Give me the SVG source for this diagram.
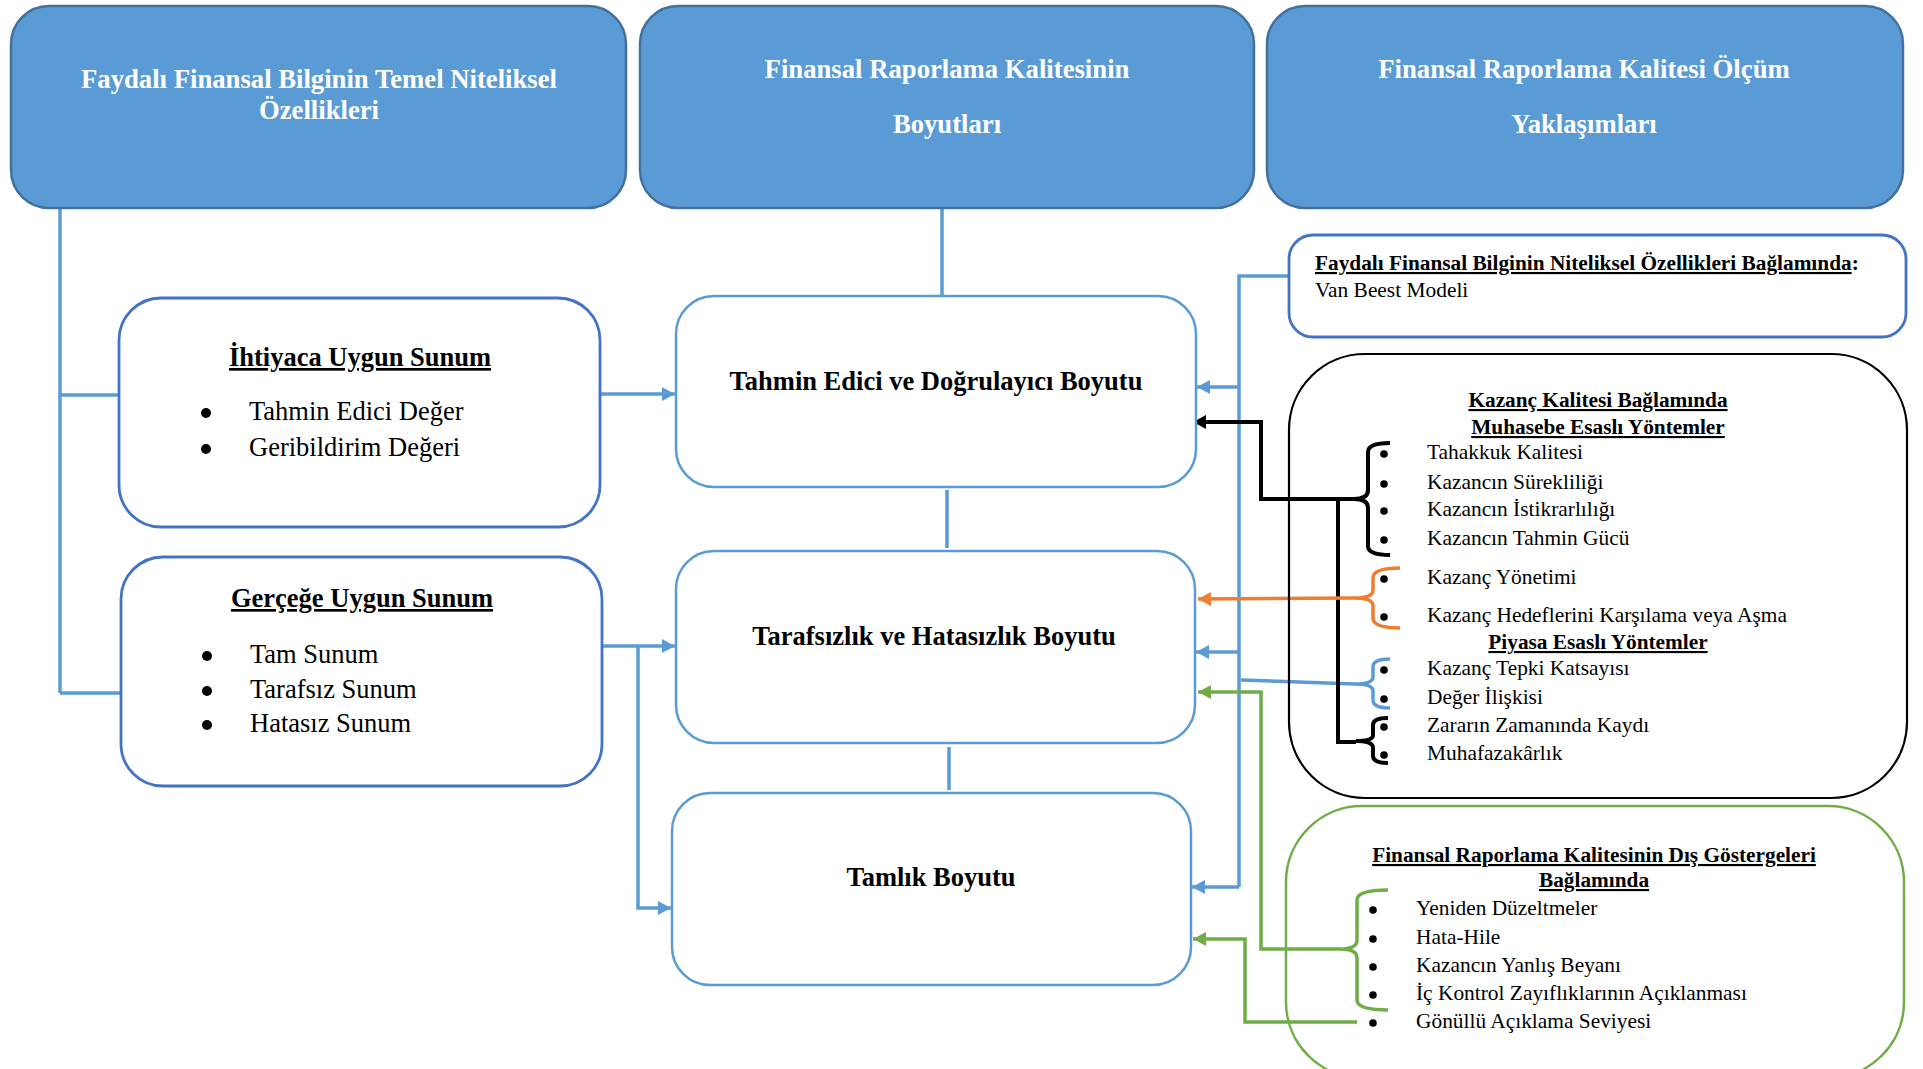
<svg xmlns="http://www.w3.org/2000/svg" width="1923" height="1069" viewBox="0 0 1923 1069">
<defs>
<style>
.top{fill:#5B9BD5;stroke:#41719C;stroke-width:2.5}
.th{font-family:"Liberation Serif","Times New Roman",serif;font-weight:bold;font-size:26.7px;fill:#fff;text-anchor:middle}
.mid{fill:#fff;stroke:#5B9BD5;stroke-width:2.5}
.left{fill:#fff;stroke:#4472C4;stroke-width:2.8}
.mt{font-family:"Liberation Serif","Times New Roman",serif;font-weight:bold;font-size:26.5px;fill:#000;text-anchor:middle}
.lt{font-family:"Liberation Serif","Times New Roman",serif;font-weight:bold;font-size:26.5px;fill:#000;text-anchor:middle;text-decoration:underline}
.li{font-family:"Liberation Serif","Times New Roman",serif;font-size:26.5px;fill:#000}
.rt{font-family:"Liberation Serif","Times New Roman",serif;font-weight:bold;font-size:21.3px;fill:#000;text-anchor:middle;text-decoration:underline}
.ri{font-family:"Liberation Serif","Times New Roman",serif;font-size:21.4px;fill:#000}
.bl{fill:#000}
.cb{fill:none;stroke:#5B9BD5;stroke-width:3.5}
.ck{fill:none;stroke:#000;stroke-width:4}
.co{fill:none;stroke:#ED7D31;stroke-width:3.5}
.cg{fill:none;stroke:#70AD47;stroke-width:3.5}
</style>
<marker id="ab" markerUnits="userSpaceOnUse" markerWidth="16" markerHeight="16" refX="13" refY="7" orient="auto"><path d="M0,0 L13,7 L0,14 z" fill="#5B9BD5"/></marker>
<marker id="ak" markerUnits="userSpaceOnUse" markerWidth="16" markerHeight="16" refX="13" refY="7" orient="auto"><path d="M0,0 L13,7 L0,14 z" fill="#000"/></marker>
<marker id="ao" markerUnits="userSpaceOnUse" markerWidth="16" markerHeight="16" refX="13" refY="7" orient="auto"><path d="M0,0 L13,7 L0,14 z" fill="#ED7D31"/></marker>
<marker id="ag" markerUnits="userSpaceOnUse" markerWidth="16" markerHeight="16" refX="13" refY="7" orient="auto"><path d="M0,0 L13,7 L0,14 z" fill="#70AD47"/></marker>
</defs>
<rect width="1923" height="1069" fill="#fff"/>

<g id="connectors">
<path class="cb" d="M60,208 L60,693 M60,395 L119,395 M60,693 L121,693"/>
<path class="cb" d="M942,208 L942,296"/>
<path class="cb" d="M947,490 L947,548"/>
<path class="cb" d="M949,747 L949,790"/>
<path class="cb" d="M600,394 L675,394" marker-end="url(#ab)"/>
<path class="cb" d="M602,646 L675,646" marker-end="url(#ab)"/>
<path class="cb" d="M638,646 L638,908 L671,908" marker-end="url(#ab)"/>
<path class="cb" d="M1289,276 L1239,276 L1239,887"/>
<path class="cb" d="M1239,387 L1197,387" marker-end="url(#ab)"/>
<path class="cb" d="M1239,652 L1196,652" marker-end="url(#ab)"/>
<path class="cb" d="M1239,887 L1192,887" marker-end="url(#ab)"/>
<path class="cb" d="M1241,680 L1355,684"/>
<path class="cb" d="M1390,659 Q1373,659 1373,667 L1373,677 Q1373,684 1355,684 Q1373,684 1373,691 L1373,700 Q1373,708 1390,708"/>
<path class="ck" d="M1355,499 L1261,499 L1261,422 L1193,422" marker-end="url(#ak)"/>
<path class="ck" d="M1338,499 L1338,742 L1356,742"/>
<path class="ck" d="M1390,443 Q1368,443 1368,452 L1368,490 Q1368,499 1354,499 Q1368,499 1368,508 L1368,546 Q1368,555 1390,555"/>
<path class="ck" d="M1388,718 Q1373,718 1373,725 L1373,735 Q1373,741 1356,741 Q1373,741 1373,748 L1373,756 Q1373,763 1388,763"/>
<path class="co" d="M1355,598 L1198,599" marker-end="url(#ao)"/>
<path class="co" d="M1400,568 Q1373,568 1373,578 L1373,590 Q1373,598 1355,598 Q1373,598 1373,606 L1373,618 Q1373,628 1400,628"/>
<path class="cg" d="M1340,949 L1261,949 L1261,692 L1198,692" marker-end="url(#ag)"/>
<path class="cg" d="M1357,1022 L1245,1022 L1245,939 L1193,939" marker-end="url(#ag)"/>
<path class="cg" d="M1388,890 Q1357,890 1357,900 L1357,940 Q1357,949 1340,949 Q1357,949 1357,958 L1357,1000 Q1357,1010 1388,1010"/>
</g>

<g id="box-faydali">
<rect class="top" x="11" y="6" width="615" height="202" rx="38"/>
<text class="th" x="319" y="88">Faydalı Finansal Bilginin Temel Niteliksel</text>
<text class="th" x="319" y="119">Özellikleri</text>
</g>
<g id="box-boyutlar">
<rect class="top" x="640" y="6" width="614" height="202" rx="38"/>
<text class="th" x="947" y="78">Finansal Raporlama Kalitesinin</text>
<text class="th" x="947" y="133">Boyutları</text>
</g>
<g id="box-olcum">
<rect class="top" x="1267" y="6" width="636" height="202" rx="38"/>
<text class="th" x="1584" y="78">Finansal Raporlama Kalitesi Ölçüm</text>
<text class="th" x="1584" y="133">Yaklaşımları</text>
</g>

<g id="box-ihtiyaca">
<rect class="left" x="119" y="298" width="481" height="229" rx="42"/>
<text class="lt" x="360" y="366">İhtiyaca Uygun Sunum</text>
<circle class="bl" cx="206" cy="413" r="5"/><text class="li" x="249" y="420">Tahmin Edici Değer</text>
<circle class="bl" cx="206" cy="449" r="5"/><text class="li" x="249" y="456">Geribildirim Değeri</text>
</g>
<g id="box-gercege">
<rect class="left" x="121" y="557" width="481" height="229" rx="42"/>
<text class="lt" x="362" y="607">Gerçeğe Uygun Sunum</text>
<circle class="bl" cx="207" cy="656" r="5"/><text class="li" x="250" y="663">Tam Sunum</text>
<circle class="bl" cx="207" cy="691" r="5"/><text class="li" x="250" y="698">Tarafsız Sunum</text>
<circle class="bl" cx="207" cy="725" r="5"/><text class="li" x="250" y="732">Hatasız Sunum</text>
</g>

<g id="box-tahmin">
<rect class="mid" x="676" y="296" width="520" height="191" rx="38"/>
<text class="mt" x="936" y="390">Tahmin Edici ve Doğrulayıcı Boyutu</text>
</g>
<g id="box-tarafsizlik">
<rect class="mid" x="676" y="551" width="519" height="192" rx="38"/>
<text class="mt" x="934" y="645">Tarafsızlık ve Hatasızlık Boyutu</text>
</g>
<g id="box-tamlik">
<rect class="mid" x="672" y="793" width="519" height="192" rx="38"/>
<text class="mt" x="931" y="886">Tamlık Boyutu</text>
</g>

<g id="box-vanbeest">
<rect x="1289" y="235" width="617" height="102" rx="24" fill="#fff" stroke="#4472C4" stroke-width="2.8"/>
<text x="1315" y="270" font-family="Liberation Serif, Times New Roman, serif" font-weight="bold" font-size="21.3"><tspan text-decoration="underline">Faydalı Finansal Bilginin Niteliksel Özellikleri Bağlamında</tspan>:</text>
<text class="ri" x="1315" y="297">Van Beest Modeli</text>
</g>

<g id="box-kazanc">
<rect x="1289" y="354" width="618" height="444" rx="76" fill="none" stroke="#000" stroke-width="2.2"/>
<text class="rt" x="1598" y="407">Kazanç Kalitesi Bağlamında</text>
<text class="rt" x="1598" y="434">Muhasebe Esaslı Yöntemler</text>
<circle class="bl" cx="1384" cy="454" r="3.8"/><text class="ri" x="1427" y="459">Tahakkuk Kalitesi</text>
<circle class="bl" cx="1384" cy="484" r="3.8"/><text class="ri" x="1427" y="489">Kazancın Sürekliliği</text>
<circle class="bl" cx="1384" cy="511" r="3.8"/><text class="ri" x="1427" y="516">Kazancın İstikrarlılığı</text>
<circle class="bl" cx="1384" cy="540" r="3.8"/><text class="ri" x="1427" y="545">Kazancın Tahmin Gücü</text>
<circle class="bl" cx="1384" cy="579" r="3.8"/><text class="ri" x="1427" y="584">Kazanç Yönetimi</text>
<circle class="bl" cx="1384" cy="617" r="3.8"/><text class="ri" x="1427" y="622">Kazanç Hedeflerini Karşılama veya Aşma</text>
<text class="rt" x="1598" y="649">Piyasa Esaslı Yöntemler</text>
<circle class="bl" cx="1384" cy="670" r="3.8"/><text class="ri" x="1427" y="675">Kazanç Tepki Katsayısı</text>
<circle class="bl" cx="1384" cy="699" r="3.8"/><text class="ri" x="1427" y="704">Değer İlişkisi</text>
<circle class="bl" cx="1384" cy="727" r="3.8"/><text class="ri" x="1427" y="732">Zararın Zamanında Kaydı</text>
<circle class="bl" cx="1384" cy="755" r="3.8"/><text class="ri" x="1427" y="760">Muhafazakârlık</text>
</g>

<g id="box-dis-gostergeler">
<rect x="1286" y="806" width="618" height="272" rx="76" fill="none" stroke="#70AD47" stroke-width="2.5"/>
<text class="rt" x="1594" y="862">Finansal Raporlama Kalitesinin Dış Göstergeleri</text>
<text class="rt" x="1594" y="887">Bağlamında</text>
<circle class="bl" cx="1373" cy="910" r="3.8"/><text class="ri" x="1416" y="915">Yeniden Düzeltmeler</text>
<circle class="bl" cx="1373" cy="939" r="3.8"/><text class="ri" x="1416" y="944">Hata-Hile</text>
<circle class="bl" cx="1373" cy="967" r="3.8"/><text class="ri" x="1416" y="972">Kazancın Yanlış Beyanı</text>
<circle class="bl" cx="1373" cy="995" r="3.8"/><text class="ri" x="1416" y="1000">İç Kontrol Zayıflıklarının Açıklanması</text>
<circle class="bl" cx="1373" cy="1023" r="3.8"/><text class="ri" x="1416" y="1028">Gönüllü Açıklama Seviyesi</text>
</g>
</svg>
